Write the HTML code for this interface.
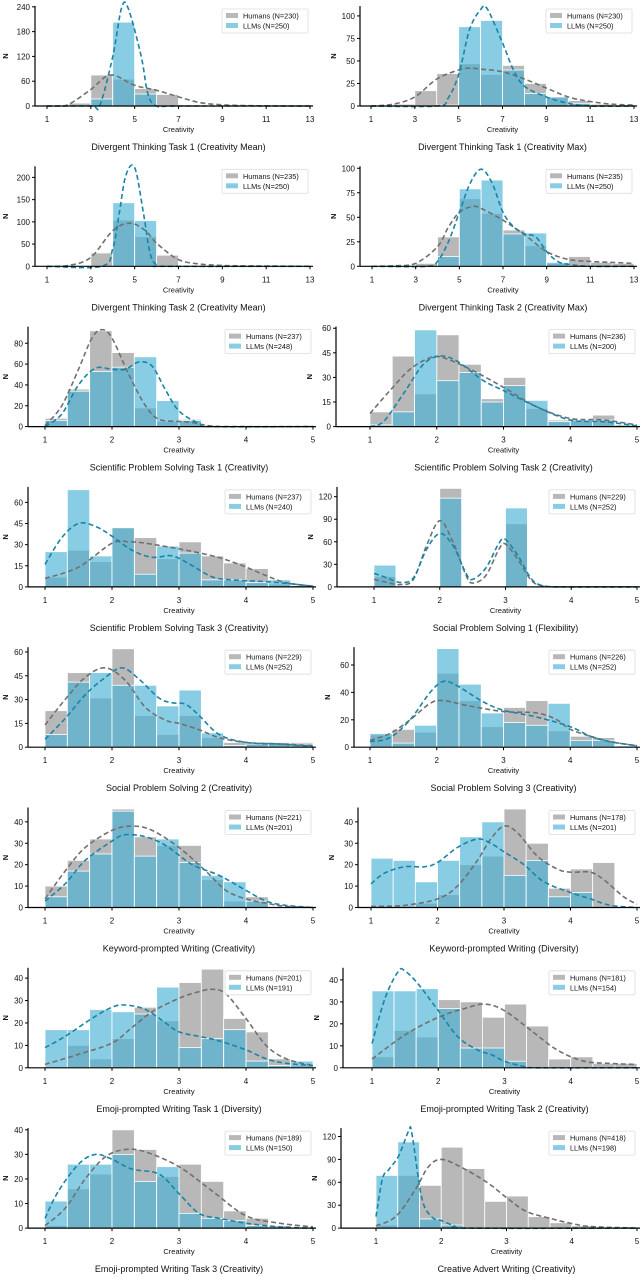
<!DOCTYPE html>
<html><head><meta charset="utf-8"><style>
html,body{margin:0;padding:0;background:#fff;}
svg{display:block;font-family:"Liberation Sans",sans-serif;}
</style></head><body>
<svg id="fig" width="640" height="1277" viewBox="0 0 640 1277" xmlns="http://www.w3.org/2000/svg"></svg>
<script>
// ----- data arrays -----
const titles = ["Divergent Thinking Task 1 (Creativity Mean)","Divergent Thinking Task 1 (Creativity Max)","Divergent Thinking Task 2 (Creativity Mean)","Divergent Thinking Task 2 (Creativity Max)","Scientific Problem Solving Task 1 (Creativity)","Scientific Problem Solving Task 2 (Creativity)","Scientific Problem Solving Task 3 (Creativity)","Social Problem Solving 1 (Flexibility)","Social Problem Solving 2 (Creativity)","Social Problem Solving 3 (Creativity)","Keyword-prompted Writing (Creativity)","Keyword-prompted Writing (Diversity)","Emoji-prompted Writing Task 1 (Diversity)","Emoji-prompted Writing Task 2 (Creativity)","Emoji-prompted Writing Task 3 (Creativity)","Creative Advert Writing (Creativity)"];
const humanN = [230,230,235,235,237,236,237,229,229,226,221,178,201,181,189,418];
const llmN = [250,250,250,250,248,200,240,252,252,252,201,201,191,154,150,198];
const yLimits = [242,111,225,102,96,61,71,133,63,73,46.7,46.7,44.6,45.5,40.7,131];
const yTicks = [[0,60,120,180,240],[0,25,50,75,100],[0,50,100,150,200],[0,25,50,75,100],[0,20,40,60,80],[0,15,30,45,60],[0,15,30,45,60],[0,30,60,90,120],[0,15,30,45,60],[0,20,40,60],[0,10,20,30,40],[0,10,20,30,40],[0,10,20,30,40],[0,10,20,30,40],[0,10,20,30,40],[0,30,60,90,120]];
const humanCounts = [
[0,7,75,65,42,28,3,1,0,0,0,0],
[0,2,17,36,47,35,45,25,10,6,2,1],
[0,0,30,104,67,25,2,0,0,0,0,0],
[0,0,3,30,69,54,37,21,3,10,4,3],
[8,36,92,71,18,5,7,0,0,0,0,0],
[9,43,20,56,38,17,30,11,4,4,7,1],
[7,26,18,42,35,20,32,22,17,13,2,1],
[14,0,0,131,0,0,84,0,0,0,0,0],
[23,47,31,62,20,8,20,6,3,3,3,3],
[9,13,11,54,34,15,29,34,12,8,7,1],
[10,22,32,46,33,29,29,13,3,5,0,0],
[0,0,2,6,20,24,46,30,9,18,21,0],
[0,10,4,13,27,21,38,44,22,16,4,1],
[5,17,14,31,30,23,29,19,4,5,2,2],
[1,16,22,40,32,21,26,19,7,4,1,0],
[4,69,56,106,78,35,42,15,7,3,1,0]];
const llmCounts = [
[0,0,17,203,29,0,0,0,0,0,0,0],
[0,0,0,1,88,95,40,14,10,3,0,0],
[0,0,0,143,103,0,0,0,0,0,0,0],
[0,0,0,10,79,88,33,34,4,0,0,0],
[6,34,53,57,67,25,6,0,0,0,0,0],
[1,9,59,28,33,15,25,16,3,4,4,1],
[25,69,22,42,9,29,24,5,5,3,5,1],
[29,0,0,118,0,0,105,0,0,0,0,0],
[8,41,47,39,39,26,36,9,1,2,2,2],
[10,3,16,72,46,25,18,16,32,5,5,1],
[5,17,25,45,24,32,21,15,12,3,0,0],
[23,22,12,22,33,40,15,22,5,7,0,0],
[17,17,26,25,24,36,9,13,17,3,1,3],
[35,35,36,27,9,9,3,0,0,0,0,0],
[11,26,26,30,19,25,6,4,3,1,0,0],
[69,113,12,4,0,0,0,0,0,0,0,0]];
const humanCurveX = [
[1,1.5,2,3,3.9,5,6,7,8,9,10,12,13],
[1,2,3,4,5,5.5,6,7,8,9,10,11,12,13],
[1,2,3,4,4.8,5.5,6,7,8,9,10,13],
[1,2,3,4,4.5,5,5.6,6,7,8,9,10,11,12,13],
[1,1.25,1.5,1.7,1.85,2,2.25,2.5,2.7,3,3.2,3.5,4,5],
[1,1.3,1.6,1.9,2.1,2.5,3,3.5,4,4.5,5],
[1,1.5,2,2.25,2.5,3,3.5,3.9,4.3,4.6,5],
[1,1.2,1.4,1.6,1.8,2,2.2,2.4,2.5,2.7,2.9,3,3.2,3.4,3.6,4,5],
[1,1.3,1.6,1.9,2.2,2.5,2.8,3,3.3,3.6,4,4.5,5],
[1,1.3,1.6,1.9,2.1,2.5,3,3.5,3.8,4,4.3,4.6,5],
[1,1.3,1.6,2,2.3,2.6,3,3.4,3.7,4,4.3,4.6,5],
[1,1.5,2,2.3,2.6,2.8,3,3.2,3.5,3.8,4,4.3,4.5,4.8,5],
[1,1.5,2,2.3,2.6,3,3.3,3.5,3.7,4,4.3,4.6,5],
[1,1.5,2,2.4,2.7,3,3.4,3.8,4.2,4.6,5],
[1,1.3,1.6,1.9,2.2,2.5,3,3.5,4,4.5,5],
[1,1.3,1.6,1.8,2,2.3,2.7,3,3.3,3.7,4,4.3,5]];
const humanCurveY = [
[0,0,4,40,75,50,38,22,8,3,1,0,0],
[0,2,10,30,40,42,41,38,30,20,10,5,2,1],
[0,2,20,80,97,80,52,15,5,2,1,0],
[0,0.5,3,20,40,55,61,59,47,32,15,7,5,4,3],
[1,20,55,85,93,85,50,20,7,5,4,0.5,0,0],
[8,22,35,42,42,35,24,12,5,4,1],
[6,14,31,32,31,27,22,16,8,3,0.5],
[10,6,3,10,55,88,60,15,5,15,50,57,35,8,1,0,0],
[14,30,44,50,42,25,17,15,11,6,3,2,1],
[5,10,20,32,34,30,26,25,20,13,8,4,1],
[4,17,28,36,38,36,28,17,8,4,2,0.5,0],
[0.5,1,4,10,22,32,38,35,24,18,16.5,16.5,13,5,1.5],
[1.5,6,11,18,25,31,34,35,33,22,10,4,1],
[4,15,23,27,29,26,17,8,3,2,1.5],
[1,8,20,29,32,31,25,15,5,2,0.5],
[3,15,50,80,90,80,60,40,22,12,6,2,0]];
const llmCurveX = [
[1,3,3.4,4,4.4,4.7,5.3,5.6,6,7,13],
[1,4,4.5,5,5.5,6,6.3,7,7.5,8,9,10,11,13],
[1,3.5,4,4.3,4.6,5,5.4,5.7,6,6.5,13],
[1,3.5,4,4.5,5,5.5,6,6.5,7,7.5,8,8.5,9,9.5,10,11,13],
[1,1.25,1.5,1.75,2,2.2,2.4,2.6,2.8,3,3.3,3.5,5],
[1,1.2,1.5,1.8,2.05,2.3,2.7,3,3.5,4,4.5,5],
[1,1.25,1.5,1.75,2,2.3,2.6,2.9,3.2,3.5,3.8,4.2,4.5,5],
[1,1.2,1.4,1.6,1.8,2,2.2,2.4,2.5,2.7,2.9,3,3.2,3.4,3.6,4,5],
[1,1.3,1.6,1.9,2.15,2.4,2.7,2.9,3.1,3.3,3.6,4,4.5,5],
[1,1.3,1.6,1.9,2.1,2.3,2.7,3,3.5,4,4.3,4.6,5],
[1,1.3,1.6,2,2.2,2.5,2.8,3.2,3.6,4,4.3,4.6,5],
[1,1.2,1.5,1.8,2,2.3,2.6,2.8,3,3.3,3.6,4,4.3,4.6,5],
[1,1.3,1.7,2,2.2,2.5,2.8,3,3.3,3.6,4,4.3,4.6,5],
[1,1.2,1.4,1.5,1.7,2,2.3,2.6,2.8,3,3.3,3.5,5],
[1,1.2,1.5,1.75,2,2.3,2.7,3,3.3,3.6,4,4.5,5],
[1,1.1,1.2,1.35,1.5,1.55,1.7,1.85,2,2.2,2.4,5]];
const llmCurveY = [
[0,0,0,120,237,237,120,30,0,0,0],
[0,0,8,35,85,107,108,70,40,22,10,3,0,0],
[0,0,40,120,205,222,120,30,3,0,0],
[0,0,5,25,55,85,99,85,55,40,33,30,15,5,2,0,0],
[0,12,40,56,55,55,62,58,35,15,3,0,0],
[0,3,20,38,43,40,28,22,12,4,3,0.5],
[16,35,45,43,36,26,21,22,15,7,5,4,3,0.5],
[18,12,6,12,50,71,55,18,10,25,58,63,40,10,1,0,0],
[5,18,33,44,50,43,31,28,27,20,8,3,2,0.5],
[4,7,20,40,48,45,33,27,22,15,8,4,1],
[3,11,22,31,34,33,29,20,15,8,3,1,0],
[11,16,19,19,21,28,32,30,26,20,12,7,4,1,0],
[9,14,22,27,28,26,20,16,14,12,8,4,2,1],
[11,32,44,44,38,26,14,8,6,3,0.5,0,0],
[4,15,26,30,28,24,22,14,6,4,2,0.5,0],
[15,65,77,95,127,124,40,15,10,3,0,0]];

// ----- layout -----
const svg = document.getElementById('fig');
const NS = 'http://www.w3.org/2000/svg';
function mk(tag, attrs, parent){ const e=document.createElementNS(NS,tag); for(const k in attrs) e.setAttribute(k,attrs[k]); (parent||svg).appendChild(e); return e; }
function smoothPath(pts){
  let d='M'+pts[0][0].toFixed(1)+','+pts[0][1].toFixed(1);
  for(let i=0;i<pts.length-1;i++){
    const p0=pts[Math.max(0,i-1)],p1=pts[i],p2=pts[i+1],p3=pts[Math.min(pts.length-1,i+2)];
    const c1=[p1[0]+(p2[0]-p0[0])/6,p1[1]+(p2[1]-p0[1])/6];
    const c2=[p2[0]-(p3[0]-p1[0])/6,p2[1]-(p3[1]-p1[1])/6];
    d+=' C'+c1[0].toFixed(1)+','+c1[1].toFixed(1)+' '+c2[0].toFixed(1)+','+c2[1].toFixed(1)+' '+p2[0].toFixed(1)+','+p2[1].toFixed(1);
  }
  return d;
}
const rightSpines=[360,360,336,337,354,358,343,341];
const rightX1=[371,372,370,374,370,371,372,376];

for(let p=0;p<16;p++){
  const row=Math.floor(p/2), col=p%2;
  const top=row*160.3;
  const y0=top+106, ph=100;
  const wide = row<2;
  let spine,px1,px2;
  if(col===0){ spine = wide?35:28; px1 = wide?47:45; px2 = wide?310:313; }
  else { spine = rightSpines[row]; px1 = rightX1[row]; px2 = wide?634:637; }
  const xmin=1, xmax= wide?13:5;
  const xs=v=>px1+(v-xmin)/(xmax-xmin)*(px2-px1);
  const ys=v=>y0-Math.min(v,yLimits[p])/yLimits[p]*ph;
  const g=mk('g',{});
  
  
  const binW = wide?1:1/3;
  // bars
  [[humanCounts[p],'rgba(160,160,160,0.75)','human'],[llmCounts[p],'rgba(72,178,214,0.65)','llm']].forEach(([arr,fill,nm])=>{
    arr.forEach((v,i)=>{
      if(v<=0) return;
      const a=xmin+i*binW, b=a+binW;
      const r=mk('rect',{x:xs(a),y:ys(v),width:xs(b)-xs(a),height:y0-ys(v),fill:fill,stroke:'#fff','stroke-width':0.8},g);
      
      
    });
  });
  // curves
  [[humanCurveX[p],humanCurveY[p],'#707070','human'],[llmCurveX[p],llmCurveY[p],'#1a84a6','llm']].forEach(([cx,cy,col2,nm])=>{
    const pts=cx.map((x,i)=>[xs(x),ys(cy[i])]);
    const c=mk('path',{d:smoothPath(pts),fill:'none',stroke:col2,'stroke-width':1.6,'stroke-dasharray':'5,3'},g);
    
    
  });
  // axes
  const xa=mk('line',{x1:spine,y1:y0,x2:px2+3,y2:y0,stroke:'#000','stroke-width':1.2},g);
  
  
  const ya=mk('line',{x1:spine,y1:y0,x2:spine,y2:y0-ph,stroke:'#000','stroke-width':1.2},g);
  
  
  const xt = wide?[1,3,5,7,9,11,13]:[1,2,3,4,5];
  xt.forEach(v=>{
    mk('line',{x1:xs(v),y1:y0,x2:xs(v),y2:y0+3,stroke:'#000','stroke-width':1},g);
    const t=mk('text',{x:xs(v),y:y0+16,'font-size':8,'text-anchor':'middle',fill:'#111'},g);
    t.textContent=v;
    
    
  });
  yTicks[p].forEach(v=>{
    mk('line',{x1:spine-3,y1:ys(v),x2:spine,y2:ys(v),stroke:'#000','stroke-width':1},g);
    const t=mk('text',{x:spine-5,y:ys(v)+3,'font-size':8,'text-anchor':'end',fill:'#111'},g);
    t.textContent=v;
    
    
  });
  const xl=mk('text',{x:(px1+px2)/2,y:y0+26,'font-size':7.5,'text-anchor':'middle',fill:'#111'},g);
  xl.textContent='Creativity';
  
  
  const ylx = col===0?8:spine-24;
  const yl=mk('text',{x:ylx,y:y0-50,'font-size':7.5,'text-anchor':'middle','font-weight':'bold',fill:'#111',transform:'rotate(-90 '+ylx+' '+(y0-50)+')'},g);
  yl.textContent='N';
  
  
  const tt=mk('text',{x:(px1+px2)/2,y:top+150,'font-size':9,'text-anchor':'middle',fill:'#111'},g);
  tt.textContent=titles[p];
  
  
  // legend
  const lx=px2-88, ly=top+9;
  const lg=mk('g',{},g);
  
  
  mk('rect',{x:lx,y:ly,width:86,height:24,fill:'#fff','fill-opacity':0.85,stroke:'#ddd','stroke-width':0.8,rx:1.5},lg);
  [['rgba(160,160,160,0.75)','Humans (N='+humanN[p]+')'],['rgba(72,178,214,0.65)','LLMs (N='+llmN[p]+')']].forEach(([f,txt],i)=>{
    mk('rect',{x:lx+4,y:ly+4+i*10,width:12,height:5,fill:f},lg);
    const t=mk('text',{x:lx+21,y:ly+9.5+i*10,'font-size':7.3,fill:'#111'},lg);
    t.textContent=txt;
    
    
  });
}
</script>
</body></html>
